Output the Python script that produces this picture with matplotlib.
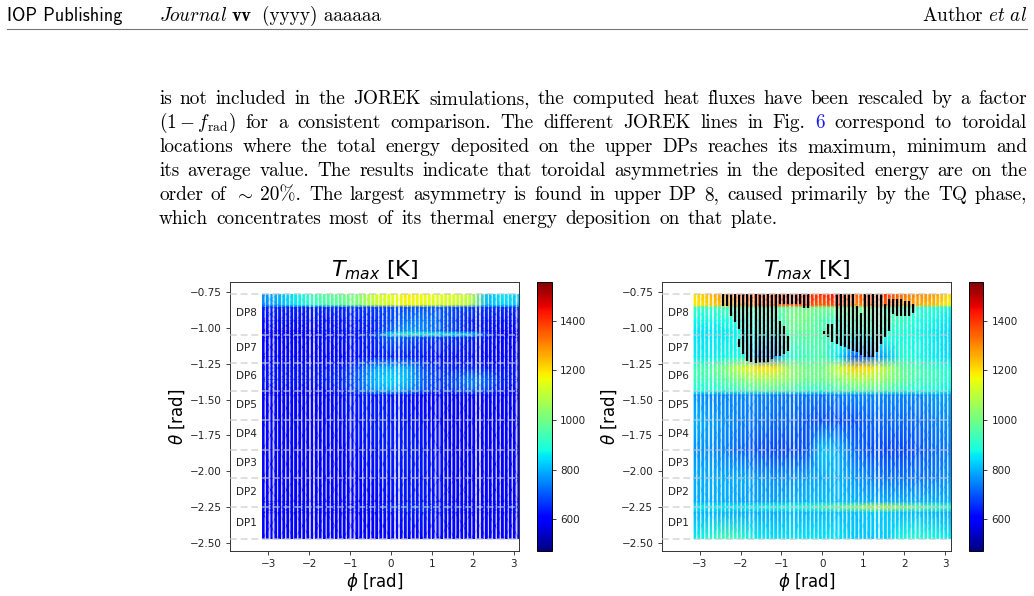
import numpy as np
import matplotlib
matplotlib.use("Agg")
import matplotlib.pyplot as plt
from matplotlib.path import Path
from matplotlib.cm import ScalarMappable
from matplotlib.colors import Normalize

W, H = 1034, 596
plt.rcParams['mathtext.fontset'] = 'cm'
plt.rcParams['axes.unicode_minus'] = True

# surface temperature grid [K], one row per theta, one column per phi
phi_nodes = [-3.14, -2.75, -2.36, -1.96, -1.57, -1.18, -0.79, -0.39, 0.0,
             0.39, 0.79, 1.18, 1.57, 1.96, 2.36, 2.75, 3.14]
theta_nodes = [-0.764, -0.84, -0.86, -0.95, -1.02, -1.045, -1.07, -1.20, -1.28,
               -1.36, -1.44, -1.47, -1.65, -1.85, -2.05, -2.21, -2.25, -2.29, -2.472]

tmax_left = [
    [760, 800, 860, 930, 970, 990, 1030, 1130, 1150, 1190, 1170, 1150, 1140, 1100, 810, 860, 820],
    [750, 790, 850, 910, 950, 970, 1010, 1110, 1130, 1170, 1150, 1130, 1120, 1080, 800, 840, 810],
    [640, 640, 640, 640, 650, 650, 660, 670, 680, 690, 700, 700, 680, 670, 660, 650, 650],
    [620, 620, 620, 620, 620, 630, 640, 650, 690, 730, 740, 710, 670, 640, 630, 620, 620],
    [610, 610, 610, 610, 620, 620, 630, 640, 710, 770, 750, 710, 670, 640, 620, 610, 610],
    [610, 610, 610, 610, 620, 620, 640, 680, 860, 910, 890, 870, 860, 840, 660, 610, 610],
    [610, 610, 610, 610, 620, 620, 630, 650, 710, 700, 670, 660, 650, 640, 620, 610, 610],
    [610, 610, 610, 610, 610, 610, 620, 630, 640, 640, 630, 620, 620, 620, 610, 610, 610],
    [620, 620, 620, 620, 630, 640, 690, 780, 800, 790, 690, 650, 640, 650, 630, 620, 620],
    [630, 630, 630, 630, 640, 650, 710, 810, 840, 810, 710, 670, 690, 750, 710, 640, 630],
    [610, 610, 610, 610, 620, 640, 690, 770, 790, 760, 690, 650, 670, 710, 670, 620, 610],
    [600, 600, 600, 600, 610, 620, 630, 630, 630, 620, 600, 590, 590, 590, 590, 590, 590],
    [610, 610, 610, 610, 610, 620, 630, 640, 640, 630, 620, 610, 600, 600, 600, 600, 600],
    [610, 610, 610, 610, 610, 610, 620, 630, 640, 640, 630, 620, 610, 610, 610, 610, 610],
    [610, 610, 610, 610, 610, 610, 610, 620, 630, 630, 630, 620, 610, 610, 610, 610, 610],
    [600, 600, 600, 600, 600, 610, 610, 610, 620, 630, 630, 620, 610, 610, 600, 600, 600],
    [620, 620, 620, 620, 620, 620, 620, 630, 650, 660, 660, 640, 630, 620, 620, 620, 620],
    [600, 600, 600, 600, 600, 610, 610, 610, 620, 630, 630, 620, 610, 610, 600, 600, 600],
    [590, 590, 590, 590, 590, 590, 600, 600, 610, 610, 610, 610, 600, 600, 590, 590, 590],
]

tmax_right = [
    [1200, 1250, 1290, 1370, 1400, 1400, 1420, 1420, 1400, 1450, 1350, 1400, 1400, 1330, 1300, 1280, 1200],
    [1180, 1220, 1250, 1300, 1350, 1350, 1380, 1380, 1350, 1400, 1300, 1350, 1350, 1290, 1260, 1240, 1170],
    [920, 920, 940, 950, 950, 950, 1000, 1000, 1000, 1000, 1000, 1000, 950, 950, 900, 900, 870],
    [870, 870, 880, 890, 900, 900, 1000, 1000, 950, 900, 950, 950, 950, 920, 880, 870, 850],
    [850, 850, 860, 870, 880, 880, 980, 980, 950, 900, 900, 900, 900, 900, 870, 860, 840],
    [850, 850, 860, 870, 880, 860, 960, 970, 950, 890, 880, 890, 900, 890, 870, 860, 840],
    [850, 850, 860, 870, 850, 840, 950, 960, 950, 880, 860, 860, 880, 890, 870, 860, 840],
    [860, 860, 870, 880, 760, 750, 900, 930, 950, 850, 700, 720, 800, 900, 870, 860, 840],
    [930, 960, 1020, 1130, 1200, 1200, 1050, 1000, 1000, 1120, 1220, 1200, 1080, 980, 940, 920, 890],
    [930, 930, 970, 1020, 1060, 1060, 1030, 990, 990, 1030, 1070, 1070, 1030, 980, 930, 930, 890],
    [880, 880, 900, 920, 950, 950, 930, 900, 900, 930, 950, 950, 930, 900, 880, 880, 860],
    [770, 750, 750, 750, 750, 740, 730, 730, 730, 740, 750, 750, 750, 750, 750, 770, 780],
    [800, 780, 760, 740, 730, 720, 720, 700, 690, 690, 690, 710, 720, 720, 720, 740, 760],
    [760, 760, 740, 710, 690, 680, 680, 690, 820, 790, 720, 690, 680, 680, 700, 720, 740],
    [790, 790, 790, 790, 770, 760, 760, 780, 790, 800, 770, 750, 730, 730, 730, 740, 770],
    [790, 790, 790, 780, 780, 780, 790, 800, 810, 810, 800, 790, 790, 790, 790, 790, 790],
    [860, 860, 860, 860, 870, 880, 890, 900, 950, 980, 1020, 1080, 1090, 1020, 980, 950, 920],
    [800, 800, 800, 790, 790, 790, 800, 800, 810, 810, 810, 820, 820, 810, 810, 800, 790],
    [860, 900, 950, 910, 860, 850, 850, 850, 850, 850, 820, 820, 830, 880, 900, 880, 860],
]

# melted patches on the right plate: stripe number, upper and lower theta
melt_stripe = [7, 8, 9, 10, 11, 11, 12, 13, 14, 15, 16, 17, 18, 19, 20, 21, 21, 22, 22, 23, 23,
               24, 25, 26, 27, 28, 32, 33, 34, 35, 36, 37, 38, 39, 40, 41, 42, 43, 44, 45, 46,
               47, 48, 49, 50, 51, 52, 53, 54]
melt_top = [-0.764, -0.764, -0.764, -0.764, -0.764, -1.078, -0.764, -0.764, -0.764, -0.764,
            -0.764, -0.764, -0.764, -0.764, -0.764, -0.764, -0.950, -0.764, -0.985, -0.764,
            -1.054, -0.764, -0.764, -0.764, -0.764, -0.764, -1.020, -0.974, -0.974, -0.764,
            -0.764, -0.764, -0.764, -0.764, -0.847, -0.893, -0.764, -0.764, -0.764, -0.764,
            -0.764, -0.835, -0.801, -0.801, -0.801, -0.801, -0.812, -0.812, -0.835]
melt_bottom = [-0.847, -0.847, -0.916, -0.962, -1.008, -1.136, -1.182, -1.228, -1.240, -1.246,
               -1.246, -1.246, -1.240, -1.216, -1.193, -0.835, -1.193, -0.835, -1.182, -0.835,
               -1.158, -0.835, -0.835, -0.835, -0.858, -0.858, -1.043, -1.066, -1.101, -1.113,
               -1.124, -1.136, -1.147, -1.158, -1.170, -1.186, -1.200, -1.200, -1.200, -1.170,
               -1.113, -1.066, -1.020, -0.905, -0.916, -0.916, -0.916, -0.916, -0.893]

dp_edges = [-0.765, -1.049, -1.244, -1.44, -1.645, -1.85, -2.05, -2.252, -2.472]
dp_names = ["DP8", "DP7", "DP6", "DP5", "DP4", "DP3", "DP2", "DP1"]
dp_label_theta = [-0.898, -1.14, -1.335, -1.54, -1.74, -1.945, -2.145, -2.36]
phi_ticks = [-3, -2, -1, 0, 1, 2, 3]
theta_ticks = [-0.75, -1.00, -1.25, -1.50, -1.75, -2.00, -2.25, -2.50]
cbar_ticks = [600, 800, 1000, 1200, 1400]

body_lines = [
    ("is not included in the JOREK simulations, the computed heat fluxes have been rescaled by a factor", 1027),
    (r"$(1-f_{\mathrm{rad}})$ for a consistent comparison. The different JOREK lines in Fig. 6 correspond to toroidal", 1027),
    ("locations where the total energy deposited on the upper DPs reaches its maximum, minimum and", 1027),
    ("its average value. The results indicate that toroidal asymmetries in the deposited energy are on the", 1027),
    (r"order of $\sim$ 20%. The largest asymmetry is found in upper DP 8, caused primarily by the TQ phase,", 1027),
    ("which concentrates most of its thermal energy deposition on that plate.", 778),
]
body_baselines = [104, 128, 152, 176, 200, 224]

fig = plt.figure(figsize=(W / 100, H / 100), dpi=100)
norm = Normalize(471, 1557)
stripe_phi = np.linspace(-3.12, 3.12, 64)


def px_axes(x0, y0, x1, y1):
    return fig.add_axes([x0 / W, 1 - y1 / H, (x1 - x0) / W, (y1 - y0) / H])


def stripe_clip(half):
    rects = []
    for p in stripe_phi:
        rects.append(Path([(p - half, theta_nodes[0]), (p + half, theta_nodes[0]),
                           (p + half, theta_nodes[-1]), (p - half, theta_nodes[-1]),
                           (p - half, theta_nodes[0])], closed=True))
    return Path.make_compound_path(*rects)


def draw_panel(x0, cb_x0, tmax):
    ax = px_axes(x0, 282, x0 + 289, 551)
    grid = np.array(tmax, dtype=float)
    # pale wash between the stripes, a soft edge, then the stripe cores
    for half, alpha in [(None, 0.2), (0.036, 0.55), (0.024, 1.0)]:
        mesh = ax.pcolormesh(phi_nodes, theta_nodes, grid, cmap="jet", norm=norm,
                             shading="gouraud", alpha=alpha, linewidth=0)
        if half is not None:
            mesh.set_clip_path(stripe_clip(half), ax.transData)

    ax.hlines(dp_edges, -3.93, 3.14, colors="#c9c9c9", linestyles=(0, (4.5, 2.5)),
              linewidth=1.1, alpha=0.75, zorder=4)
    for name, th in zip(dp_names, dp_label_theta):
        ax.text(-3.53, th, name, ha="center", va="center", fontsize=7.5, color="#222222")

    ax.set_xlim(-3.93, 3.14)
    ax.set_ylim(-2.556, -0.68)
    ax.set_xticks(phi_ticks)
    ax.set_yticks(theta_ticks)
    ax.set_yticklabels([f"\u2212{abs(t):.2f}" for t in theta_ticks])
    ax.tick_params(labelsize=7.5, length=3, width=0.6, pad=3, colors="#222222")
    for s in ax.spines.values():
        s.set_linewidth(0.7)
        s.set_color("#333333")
    ax.set_xlabel(r"$\phi$ [rad]", fontsize=12, labelpad=1, math_fontfamily="dejavusans")
    ax.set_ylabel(r"$\theta$ [rad]", fontsize=12, labelpad=2, math_fontfamily="dejavusans")
    ax.set_title(r"$T_{max}$ [K]", fontsize=16, pad=2, math_fontfamily="dejavusans")

    cax = px_axes(cb_x0, 282, cb_x0 + 14.5, 551)
    cb = fig.colorbar(ScalarMappable(norm=norm, cmap="jet"), cax=cax)
    cb.set_ticks(cbar_ticks)
    cb.ax.tick_params(labelsize=7.5, length=3, width=0.6, pad=3, colors="#222222")
    cb.outline.set_linewidth(0.7)
    return ax


ax_left = draw_panel(230.3, 537.3, tmax_left)
ax_right = draw_panel(661.7, 968.5, tmax_right)
ax_right.vlines(stripe_phi[melt_stripe], melt_bottom, melt_top, colors="black",
                linewidth=1.6, zorder=3)

# running head
fig.add_artist(plt.Line2D([7 / W, 1027 / W], [1 - 28.5 / H] * 2, color="#777777", linewidth=0.8))
fig.text(7 / W, 1 - 21 / H, "IOP Publishing", family="cmss10", fontsize=13.2, color="black")
fig.text(159 / W, 1 - 21 / H, r"$\mathit{Journal}$", fontsize=13.8)
fig.text(232 / W, 1 - 21 / H, "vv", family="cmb10", fontsize=13.8)
fig.text(262 / W, 1 - 21 / H, "(yyyy) aaaaaa", family="cmr10", fontsize=13.8)
fig.text(1027 / W, 1 - 21 / H, r"Author $\mathit{et\ al}$", family="cmr10", fontsize=13.8, ha="right")

# body text, set word by word so each line is flush
fig.canvas.draw()
renderer = fig.canvas.get_renderer()
for (line, right), base in zip(body_lines, body_baselines):
    words = line.split(" ")
    artists = []
    for w in words:
        color = "#1a1ae6" if w == "6" else "black"
        artists.append(fig.text(159 / W, 1 - base / H, w, family="cmr10", fontsize=13.9,
                                color=color, va="baseline"))
    widths = [a.get_window_extent(renderer).width for a in artists]
    gap = (right - 159 - sum(widths)) / (len(words) - 1)
    x = 159.0
    for a, wd in zip(artists, widths):
        a.set_x(x / W)
        x += wd + gap

fig.savefig("out.png", dpi=100)
